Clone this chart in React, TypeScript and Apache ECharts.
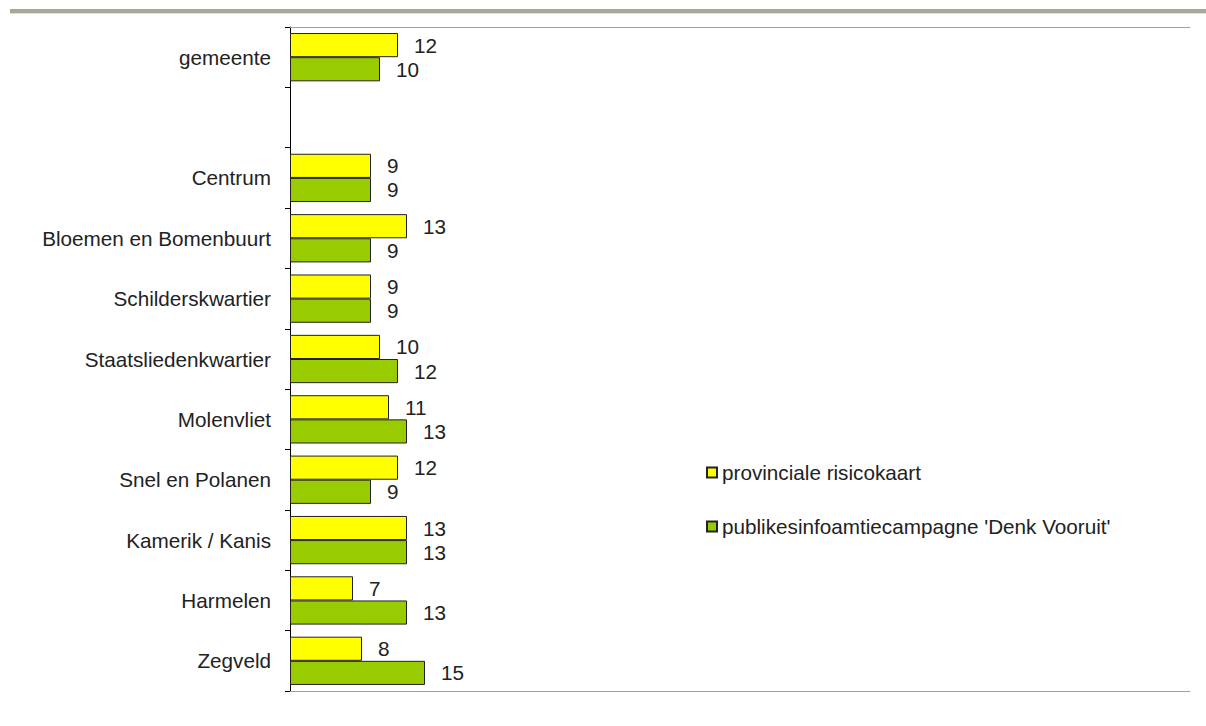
import React, { useEffect, useRef } from "react";
import * as echarts from "echarts";

const categories = [
  "gemeente",
  "",
  "Centrum",
  "Bloemen en Bomenbuurt",
  "Schilderskwartier",
  "Staatsliedenkwartier",
  "Molenvliet",
  "Snel en Polanen",
  "Kamerik / Kanis",
  "Harmelen",
  "Zegveld",
];
const provincialeRisicokaart = [12, null, 9, 13, 9, 10, 11, 12, 13, 7, 8];
const denkVooruit = [10, null, 9, 9, 9, 12, 13, 9, 13, 13, 15];
const seriesNames = [
  "provinciale risicokaart",
  "publikesinfoamtiecampagne 'Denk Vooruit'",
];

const FONT = "'Liberation Sans', Arial, sans-serif";
const FS = 20.7;

export default function App() {
  const ref = useRef<HTMLDivElement>(null);
  useEffect(() => {
    if (!ref.current) return;
    const chart = echarts.init(ref.current, null, { renderer: "svg" });
    const label = {
      show: true,
      position: "right",
      distance: 16,
      color: "#222",
      fontSize: FS,
      fontFamily: FONT,
      formatter: (p: any) => (p.value == null ? "" : String(p.value)),
    };
    chart.setOption({
      animation: false,
      backgroundColor: "#ffffff",
      textStyle: { fontFamily: FONT },
      graphic: [
        {
          type: "rect",
          shape: { x: 10, y: 9, width: 1196, height: 4 },
          style: { fill: "#a9a798" },
          silent: true,
        },
        {
          type: "rect",
          shape: { x: 10, y: 13, width: 1196, height: 1 },
          style: { fill: "#e2dfd2" },
          silent: true,
        },
      ],
      legend: {
        orient: "vertical",
        left: 706,
        top: 462,
        padding: 0,
        itemGap: 33,
        itemWidth: 10,
        itemHeight: 10,
        icon: "rect",
        textStyle: { fontSize: FS, color: "#222", fontFamily: FONT },
        data: seriesNames,
      },
      grid: { left: 290, right: 16, top: 27, bottom: 35, containLabel: false },
      xAxis: [
        {
          type: "value",
          min: 0,
          max: 100,
          position: "bottom",
          axisLine: { show: true, lineStyle: { color: "#a0a0a0", width: 1 } },
          axisTick: { show: false },
          axisLabel: { show: false },
          splitLine: { show: false },
        },
        {
          type: "value",
          min: 0,
          max: 100,
          position: "top",
          axisLine: { show: true, lineStyle: { color: "#a0a0a0", width: 1 } },
          axisTick: { show: false },
          axisLabel: { show: false },
          splitLine: { show: false },
        },
      ],
      yAxis: {
        type: "category",
        inverse: true,
        data: categories,
        axisLine: { show: true, lineStyle: { color: "#000", width: 1 } },
        axisTick: { show: true, length: 5, inside: false, lineStyle: { color: "#000" } },
        axisLabel: {
          margin: 19,
          fontSize: FS,
          color: "#222",
          fontFamily: FONT,
        },
        splitLine: { show: false },
      },
      series: [
        {
          name: seriesNames[0],
          type: "bar",
          xAxisIndex: 0,
          data: provincialeRisicokaart,
          barCategoryGap: "20%",
          barGap: "0%",
          itemStyle: { color: "#ffff00", borderColor: "#222", borderWidth: 1 },
          label,
        },
        {
          name: seriesNames[1],
          type: "bar",
          xAxisIndex: 0,
          data: denkVooruit,
          barCategoryGap: "20%",
          barGap: "0%",
          itemStyle: { color: "#99cc00", borderColor: "#222", borderWidth: 1 },
          label,
        },
      ],
    });
    return () => chart.dispose();
  }, []);
  return (
    <div
      ref={ref}
      style={{ position: "absolute", left: 0, top: 0, width: 1206, height: 726 }}
    />
  );
}
